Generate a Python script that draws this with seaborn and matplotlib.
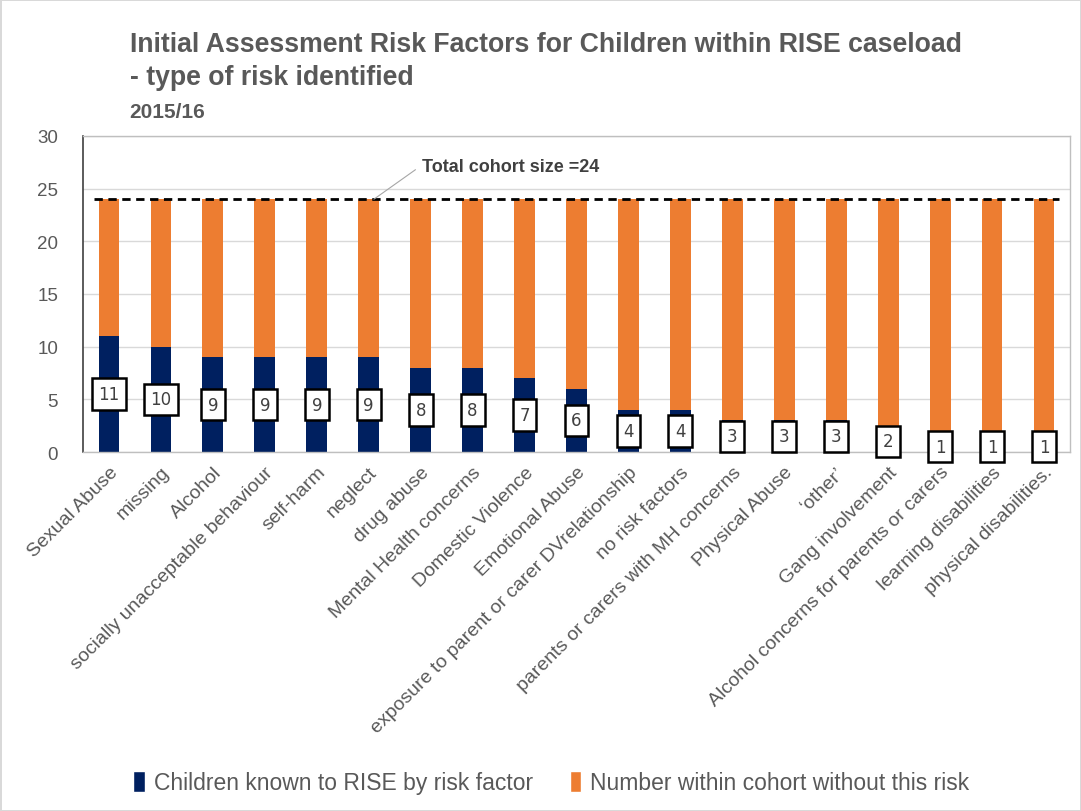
import matplotlib
matplotlib.use("Agg")
import matplotlib.pyplot as plt
import seaborn as sns
import pandas as pd
from matplotlib.patches import Patch

categories = ["Sexual Abuse", "missing", "Alcohol", "socially unacceptable behaviour",
              "self-harm", "neglect", "drug abuse", "Mental Health concerns",
              "Domestic Violence", "Emotional Abuse",
              "exposure to parent or carer DVrelationship", "no risk factors",
              "parents or carers with MH concerns", "Physical Abuse", "\u2018other\u2019",
              "Gang involvement", "Alcohol concerns for parents or carers",
              "learning disabilities", "physical disabilities."]
known = [11, 10, 9, 9, 9, 9, 8, 8, 7, 6, 4, 4, 3, 3, 3, 2, 1, 1, 1]
cohort_size = 24
without = [cohort_size - v for v in known]

NAVY = "#002060"
ORANGE = "#ED7D31"
GRAY = "#595959"

sns.set_theme(style="white")
plt.rcParams['font.family'] = ['Liberation Sans', 'DejaVu Sans']

df = pd.DataFrame({"cat": categories, "known": known, "without": without})
df["total"] = df["known"] + df["without"]

fig = plt.figure(figsize=(10.81, 8.12), dpi=100)
fig.patch.set_edgecolor("#D9D9D9")
fig.patch.set_linewidth(2)
ax = fig.add_axes([0.0768, 0.4421, 0.9130, 0.3892])

sns.barplot(data=df, x="cat", y="total", color=ORANGE, width=0.4, ax=ax,
            saturation=1, linewidth=0)
sns.barplot(data=df, x="cat", y="known", color=NAVY, width=0.4, ax=ax,
            saturation=1, linewidth=0)

ax.set_ylim(0, 30)
ax.set_xlim(-0.5, len(categories) - 0.5)
ax.set_yticks(range(0, 31, 5))
ax.yaxis.grid(True, color="#D9D9D9", linewidth=1)
ax.set_axisbelow(True)
ax.set_xlabel("")
ax.set_ylabel("")
ax.tick_params(axis='y', labelsize=13.5, labelcolor=GRAY, length=0, pad=18)
ax.tick_params(axis='x', labelsize=14, labelcolor=GRAY, length=0, pad=8)
ax.set_xticks(range(len(categories)))
ax.set_xticklabels(categories, rotation=45, ha='right', rotation_mode='anchor')
for s in ["top", "right", "bottom"]:
    ax.spines[s].set_color("#BFBFBF")
    ax.spines[s].set_linewidth(1)
ax.spines["left"].set_color("#404040")
ax.spines["left"].set_linewidth(1.2)

# data labels
for i, v in enumerate(known):
    ax.text(i, v / 2, str(v), ha='center', va='center', fontsize=12, color="#404040",
            family='DejaVu Sans',
            bbox=dict(boxstyle='square,pad=0.4', facecolor='white', edgecolor='black', linewidth=1.8))

# total line
ax.plot([-0.28, len(categories) - 1 + 0.28], [cohort_size, cohort_size],
        linestyle=(0, (3, 2)), color='black', linewidth=2)
ax.plot([5.1, 5.9], [cohort_size, 26.8], color='#A6A6A6', linewidth=0.8)
ax.text(6.02, 27.1, "Total cohort size =24", fontsize=13, fontweight='bold',
        color="#404040", va='center', ha='left')

# titles
fig.text(0.120, 0.945, "Initial Assessment Risk Factors for Children within RISE caseload",
         fontsize=19.2, fontweight='bold', color=GRAY, va='center', ha='left')
fig.text(0.120, 0.904, "- type of risk identified",
         fontsize=19.2, fontweight='bold', color=GRAY, va='center', ha='left')
fig.text(0.120, 0.861, "2015/16",
         fontsize=15, fontweight='bold', color=GRAY, va='center', ha='left')

handles = [Patch(facecolor=NAVY, label="Children known to RISE by risk factor"),
           Patch(facecolor=ORANGE, label="Number within cohort without this risk")]
fig.legend(handles=handles, loc='center', bbox_to_anchor=(0.51, 0.035), ncol=2,
           frameon=False, fontsize=16.5, handlelength=0.5, handleheight=1.0,
           columnspacing=1.6, handletextpad=0.4, labelcolor=GRAY)

fig.savefig("out.png", dpi=100)
